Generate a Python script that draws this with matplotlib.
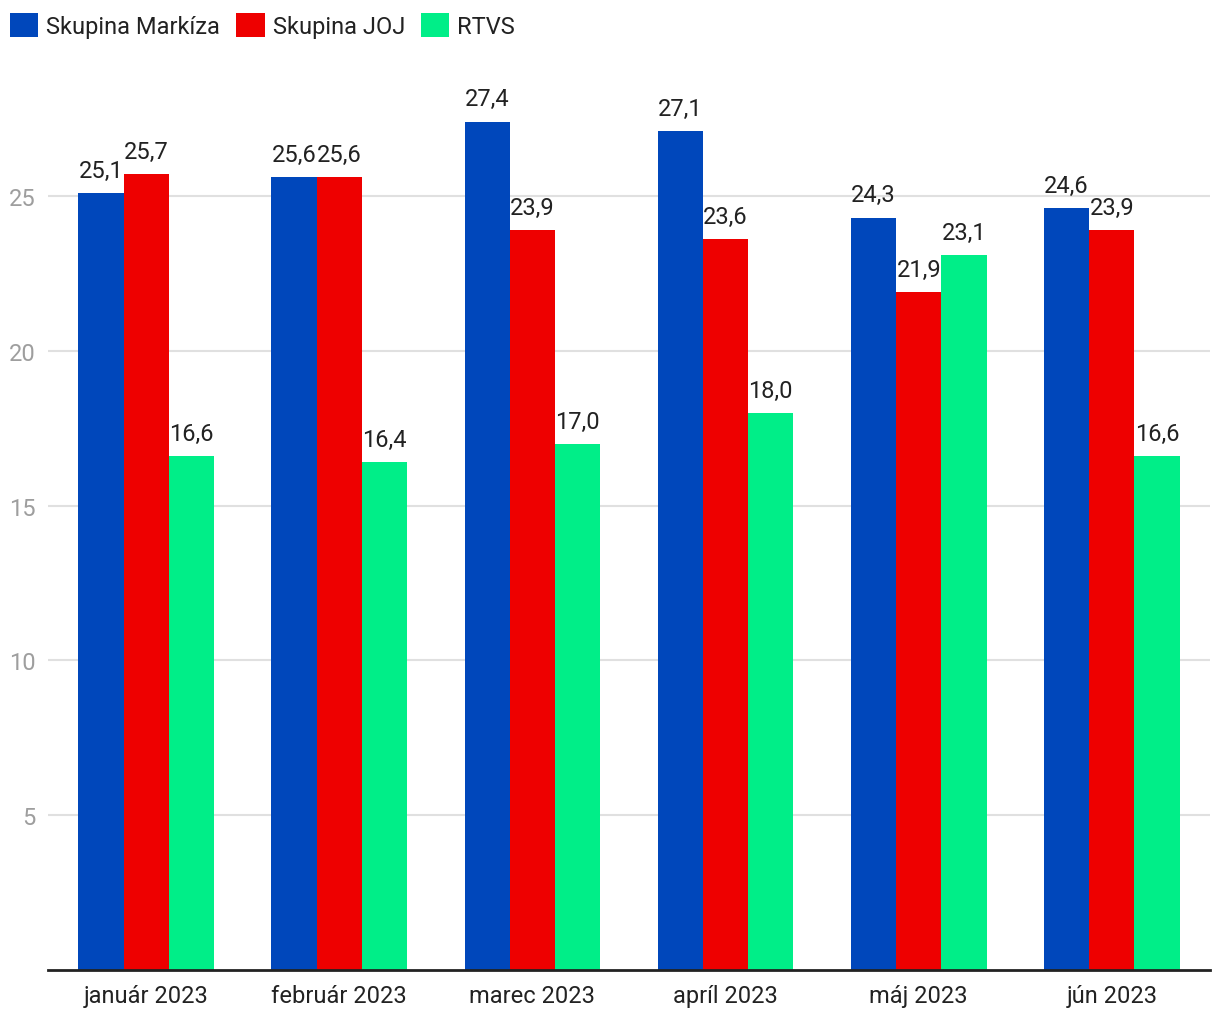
import numpy as np
import matplotlib.pyplot as plt
import matplotlib

matplotlib.rcParams['font.family'] = ['Roboto', 'DejaVu Sans']

# data
months = ["január 2023", "február 2023", "marec 2023", "apríl 2023", "máj 2023", "jún 2023"]
markiza = [25.1, 25.6, 27.4, 27.1, 24.3, 24.6]
joj = [25.7, 25.6, 23.9, 23.6, 21.9, 23.9]
rtvs = [16.6, 16.4, 17.0, 18.0, 23.1, 16.6]

series = [("Skupina Markíza", markiza, "#0047BB"),
          ("Skupina JOJ", joj, "#EE0000"),
          ("RTVS", rtvs, "#00EE88")]

fig = plt.figure(figsize=(12.2, 10.2), dpi=100)
ax = fig.add_axes([48 / 1220, 1 - 971 / 1020, (1210 - 48) / 1220, (971 - 73) / 1020])

x = np.arange(len(months))
w = 0.234
handles = []
for i, (name, vals, col) in enumerate(series):
    bars = ax.bar(x + (i - 1) * w, vals, w, color=col, label=name, zorder=3)
    handles.append(bars)
    for b, v in zip(bars, vals):
        ax.annotate(f"{v:.1f}".replace(".", ","), (b.get_x() + b.get_width() / 2, v),
                    xytext=(0, 8), textcoords="offset points",
                    ha="center", va="bottom", fontsize=17, color="#222222")

ax.set_xlim(-0.508, len(months) - 1 + 0.508)
ax.set_ylim(0, 29)
ax.set_yticks([5, 10, 15, 20, 25])
ax.set_xticks(x)
ax.set_xticklabels(months)
ax.tick_params(axis="x", length=0, pad=10, labelsize=17, labelcolor="#222222")
ax.tick_params(axis="y", length=0, pad=9, labelsize=17, labelcolor="#9e9e9e")
ax.grid(axis="y", color="#e0e0e0", linewidth=1.5, zorder=0)
for s in ["top", "right", "left"]:
    ax.spines[s].set_visible(False)
ax.spines["bottom"].set_color("#222222")
ax.spines["bottom"].set_linewidth(2)
ax.spines["bottom"].set_zorder(4)

fig.legend(handles=handles, loc="upper left", bbox_to_anchor=(10 / 1220, 1 - 14 / 1020), ncol=3,
           frameon=False, fontsize=17, handlelength=1.2, handleheight=1.2,
           handletextpad=0.34, columnspacing=0.68, borderpad=0, borderaxespad=0,
           labelcolor="#222222")

fig.savefig("out.png", dpi=100)
